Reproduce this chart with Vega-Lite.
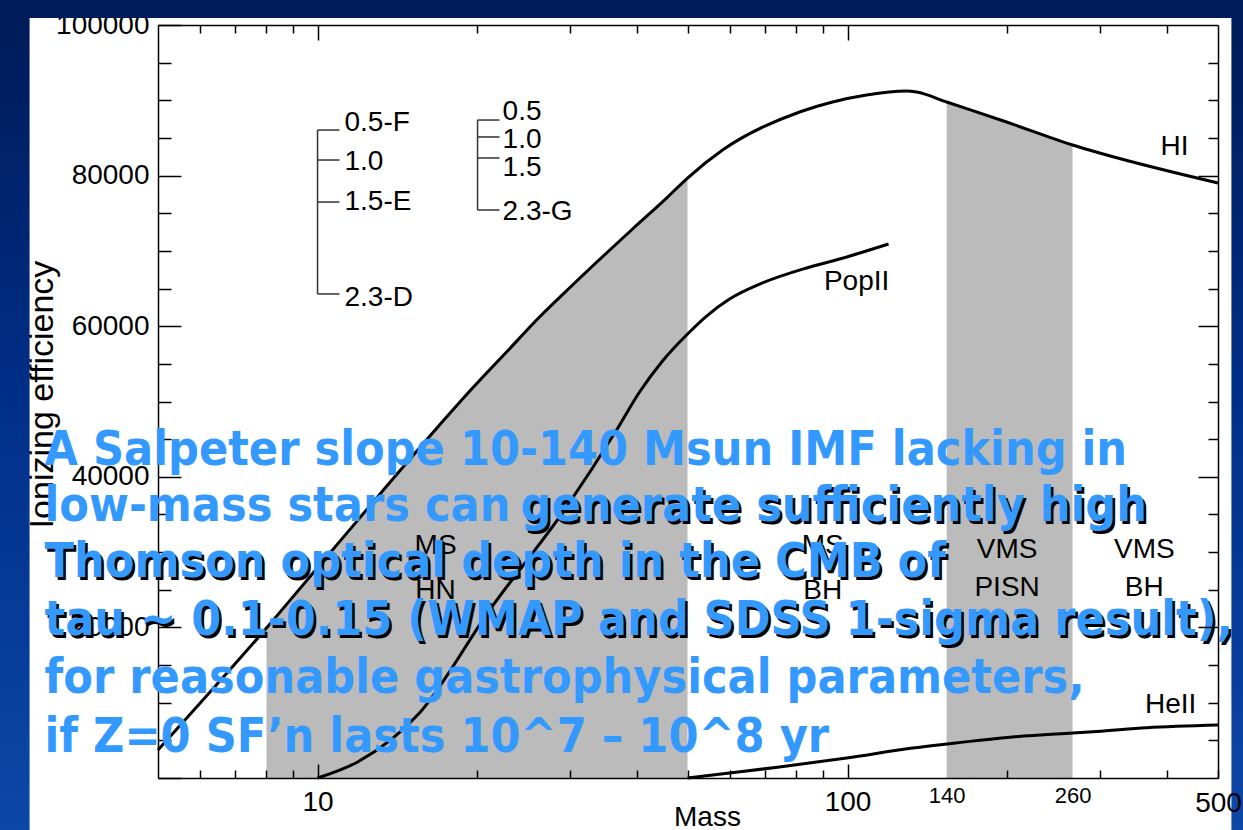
{
  "$schema": "https://vega.github.io/schema/vega-lite/v6.json",
  "width": 1060,
  "height": 753,
  "autosize": "none",
  "padding": {"left": 158, "top": 25, "right": 25, "bottom": 52},
  "background": "white",
  "config": {"view": {"stroke": null}, "font": "Liberation Sans"},
  "datasets": {
    "frame": [
      {"part": "left", "x1": 1, "x2": 2.862, "y1": -7000, "y2": 103400},
      {"part": "right", "x1": 530, "x2": 1000, "y1": -7000, "y2": 103400},
      {"part": "top", "x1": 1, "x2": 1000, "y1": 100930, "y2": 103400}
    ],
    "curves": [
      {"series": "HI", "mass": 5.0, "value": 3720, "band": null},
      {"series": "HI", "mass": 8.01, "value": 19920, "band": "A"},
      {"series": "HI", "mass": 10.67, "value": 30280, "band": "A"},
      {"series": "HI", "mass": 16.99, "value": 46880, "band": "A"},
      {"series": "HI", "mass": 19.61, "value": 51790, "band": "A"},
      {"series": "HI", "mass": 22.73, "value": 56570, "band": "A"},
      {"series": "HI", "mass": 26.23, "value": 61220, "band": "A"},
      {"series": "HI", "mass": 30.28, "value": 65470, "band": "A"},
      {"series": "HI", "mass": 35.1, "value": 69720, "band": "A"},
      {"series": "HI", "mass": 39.29, "value": 72910, "band": "A"},
      {"series": "HI", "mass": 45.55, "value": 77020, "band": "A"},
      {"series": "HI", "mass": 49.9, "value": 79680, "band": "A"},
      {"series": "HI", "mass": 58.1, "value": 83400, "band": null},
      {"series": "HI", "mass": 81.2, "value": 88450, "band": null},
      {"series": "HI", "mass": 93.7, "value": 89770, "band": null},
      {"series": "HI", "mass": 108.6, "value": 90700, "band": null},
      {"series": "HI", "mass": 129.2, "value": 91230, "band": null},
      {"series": "HI", "mass": 135.0, "value": 91100, "band": null},
      {"series": "HI", "mass": 153.8, "value": 89770, "band": "B"},
      {"series": "HI", "mass": 199.5, "value": 87120, "band": "B"},
      {"series": "HI", "mass": 265.8, "value": 84060, "band": "B"},
      {"series": "HI", "mass": 298.9, "value": 83000, "band": null},
      {"series": "HI", "mass": 500, "value": 79020, "band": null},
      {"series": "PopII", "mass": 10.0, "value": 0},
      {"series": "PopII", "mass": 11.9, "value": 2125},
      {"series": "PopII", "mass": 15.57, "value": 8630},
      {"series": "PopII", "mass": 21.12, "value": 22310},
      {"series": "PopII", "mass": 29.5, "value": 35990},
      {"series": "PopII", "mass": 36.66, "value": 46210},
      {"series": "PopII", "mass": 40.51, "value": 51260},
      {"series": "PopII", "mass": 44.76, "value": 55380},
      {"series": "PopII", "mass": 49.9, "value": 58960},
      {"series": "PopII", "mass": 54.2, "value": 61350},
      {"series": "PopII", "mass": 59.9, "value": 63610},
      {"series": "PopII", "mass": 69.1, "value": 65740},
      {"series": "PopII", "mass": 83.7, "value": 67730},
      {"series": "PopII", "mass": 96.6, "value": 68920},
      {"series": "PopII", "mass": 119.5, "value": 70920},
      {"series": "HeII", "mass": 49.9, "value": 0},
      {"series": "HeII", "mass": 59.9, "value": 660},
      {"series": "HeII", "mass": 74.4, "value": 1460},
      {"series": "HeII", "mass": 99.6, "value": 2660},
      {"series": "HeII", "mass": 132.6, "value": 3980},
      {"series": "HeII", "mass": 153.8, "value": 4520},
      {"series": "HeII", "mass": 204.8, "value": 5450},
      {"series": "HeII", "mass": 265.8, "value": 5980},
      {"series": "HeII", "mass": 295.1, "value": 6180},
      {"series": "HeII", "mass": 366.6, "value": 6680},
      {"series": "HeII", "mass": 500, "value": 7040}
    ],
    "labels": [
      {"label": "HI", "mass": 414, "value": 83800},
      {"label": "PopII", "mass": 104, "value": 65870},
      {"label": "HeII", "mass": 407, "value": 9690},
      {"label": "MS", "mass": 16.7, "value": 30810},
      {"label": "HN", "mass": 16.7, "value": 24830},
      {"label": "MS", "mass": 89.8, "value": 30810},
      {"label": "BH", "mass": 89.8, "value": 24830},
      {"label": "VMS", "mass": 200, "value": 30280},
      {"label": "PISN", "mass": 200, "value": 25230},
      {"label": "VMS", "mass": 363, "value": 30280},
      {"label": "BH", "mass": 363, "value": 25230}
    ],
    "bracketLabels": [
      {"label": "0.5-F", "mass": 11.24, "value": 86980},
      {"label": "1.0", "mass": 11.24, "value": 81800},
      {"label": "1.5-E", "mass": 11.24, "value": 76490},
      {"label": "2.3-D", "mass": 11.24, "value": 63740},
      {"label": "0.5", "mass": 22.34, "value": 88450},
      {"label": "1.0", "mass": 22.34, "value": 84730},
      {"label": "1.5", "mass": 22.34, "value": 81010},
      {"label": "2.3-G", "mass": 22.34, "value": 75170}
    ],
    "brackets": [
      {"m1": 10, "m2": 10, "v1": 86050, "v2": 64280},
      {"m1": 10, "m2": 11.0, "v1": 86050, "v2": 86050},
      {"m1": 10, "m2": 11.0, "v1": 82070, "v2": 82070},
      {"m1": 10, "m2": 11.0, "v1": 76490, "v2": 76490},
      {"m1": 10, "m2": 11.0, "v1": 64280, "v2": 64280},
      {"m1": 20.04, "m2": 20.04, "v1": 87380, "v2": 75430},
      {"m1": 20.04, "m2": 22.05, "v1": 87380, "v2": 87380},
      {"m1": 20.04, "m2": 22.05, "v1": 85130, "v2": 85130},
      {"m1": 20.04, "m2": 22.05, "v1": 82340, "v2": 82340},
      {"m1": 20.04, "m2": 22.05, "v1": 75430, "v2": 75430}
    ],
    "notes": [
      {"text": "A Salpeter slope 10-140 Msun IMF lacking in", "mass": 3.054, "value": 41570, "shadow": false},
      {"text": "low-mass stars can", "mass": 3.054, "value": 34130, "shadow": false},
      {"text": "generate sufficiently high", "mass": 24.15, "value": 34130, "shadow": true},
      {"text": "Thomson optical depth in the CMB of", "mass": 3.054, "value": 26690, "shadow": true},
      {"text": "tau ~ 0.1-0.15 (WMAP and SDSS 1-sigma result),", "mass": 3.054, "value": 18990, "shadow": true},
      {"text": "for reasonable gastrophysical parameters,", "mass": 3.054, "value": 11290, "shadow": false},
      {"text": "if Z=0 SF’n lasts 10^7 – 10^8 yr", "mass": 3.054, "value": 3450, "shadow": false}
    ]
  },
  "resolve": {"axis": {"x": "independent", "y": "independent"}},
  "layer": [
    {
      "data": {"name": "frame"},
      "transform": [{"filter": "datum.part !== 'top'"}],
      "mark": {
        "type": "rect",
        "fill": {"gradient": "linear", "x1": 0, "y1": 0, "x2": 0, "y2": 1, "stops": [{"offset": 0, "color": "#001a56"}, {"offset": 0.5, "color": "#00308a"}, {"offset": 1, "color": "#0d47a8"}]}
      },
      "encoding": {
        "x": {"field": "x1", "type": "quantitative", "scale": {"type": "log", "domain": [5, 500], "nice": false}, "axis": null},
        "x2": {"field": "x2"},
        "y": {"field": "y1", "type": "quantitative", "scale": {"domain": [0, 100000], "nice": false, "zero": false}, "axis": null},
        "y2": {"field": "y2"}
      }
    },
    {
      "data": {"name": "frame"},
      "transform": [{"filter": "datum.part === 'top'"}],
      "mark": {"type": "rect", "fill": "#001c5b"},
      "encoding": {
        "x": {"field": "x1", "type": "quantitative", "scale": {"type": "log", "domain": [5, 500], "nice": false}, "axis": null},
        "x2": {"field": "x2"},
        "y": {"field": "y1", "type": "quantitative", "scale": {"domain": [0, 100000], "nice": false, "zero": false}, "axis": null},
        "y2": {"field": "y2"}
      }
    },
    {
      "data": {"name": "curves"},
      "transform": [{"filter": "datum.series === 'HI' && datum.band != null"}],
      "mark": {"type": "area", "color": "#bbbbbb", "interpolate": "monotone"},
      "encoding": {
        "x": {"field": "mass", "type": "quantitative", "scale": {"type": "log", "domain": [5, 500], "nice": false}, "axis": null},
        "y": {"field": "value", "type": "quantitative", "scale": {"domain": [0, 100000], "nice": false, "zero": false}, "axis": null},
        "y2": {"datum": 0},
        "detail": {"field": "band"}
      }
    },
    {
      "data": {"name": "curves"},
      "mark": {"type": "line", "color": "black", "strokeWidth": 3, "interpolate": "monotone"},
      "encoding": {
        "x": {
          "field": "mass", "type": "quantitative",
          "scale": {"type": "log", "domain": [5, 500], "nice": false},
          "axis": {
            "orient": "bottom",
            "values": [6, 7, 8, 9, 10, 20, 30, 40, 50, 60, 70, 80, 90, 100, 153.8, 200, 265.8, 300, 400, 500],
            "grid": false,
            "domainColor": "black", "domainWidth": 1.5,
            "tickColor": "black", "tickWidth": 1.5,
            "tickSize": {"condition": [{"test": "datum.value === 10 || datum.value === 100", "value": -14}, {"test": "datum.value === 153.8 || datum.value === 265.8", "value": 0}], "value": -8},
            "labelExpr": "datum.value === 10 ? '10' : datum.value === 100 ? '100' : datum.value === 500 ? '500' : datum.value === 153.8 ? '140' : datum.value === 265.8 ? '260' : ''",
            "labelFont": "Liberation Sans",
            "labelFontSize": {"condition": {"test": "datum.value === 153.8 || datum.value === 265.8", "value": 22}, "value": 28},
            "labelPadding": {"condition": [{"test": "datum.value === 10 || datum.value === 100", "value": 24}, {"test": "datum.value === 153.8 || datum.value === 265.8", "value": 7}], "value": 19},
            "labelColor": "black",
            "labelOverlap": false, "labelFlush": false, "labelBound": false,
            "title": "Mass", "titleFont": "Liberation Sans", "titleFontSize": 28, "titleFontWeight": "normal", "titleColor": "black",
            "titleX": 549, "titleY": 47, "titleBaseline": "alphabetic", "titleAlign": "center",
            "zindex": 1
          }
        },
        "y": {
          "field": "value", "type": "quantitative",
          "scale": {"domain": [0, 100000], "nice": false, "zero": false},
          "axis": {
            "orient": "left",
            "values": [0, 5000, 10000, 15000, 20000, 25000, 30000, 35000, 40000, 45000, 50000, 55000, 60000, 65000, 70000, 75000, 80000, 85000, 90000, 95000, 100000],
            "format": "d",
            "grid": false,
            "domainColor": "black", "domainWidth": 1.5,
            "tickColor": "black", "tickWidth": 1.5,
            "tickSize": {"condition": {"test": "datum.value % 20000 === 0", "value": -23}, "value": -13},
            "labelExpr": "datum.value % 20000 === 0 && datum.value > 0 ? datum.label : ''",
            "labelFont": "Liberation Sans", "labelFontSize": 28, "labelColor": "black",
            "labelPadding": 32, "labelOverlap": false, "labelFlush": false, "labelBound": false,
            "title": "Ionizing efficiency", "titleFont": "Liberation Sans", "titleFontSize": 34, "titleFontWeight": "normal", "titleColor": "black",
            "titleAngle": -90, "titleX": -106, "titleY": 369, "titleAlign": "center", "titleBaseline": "alphabetic",
            "zindex": 0
          }
        },
        "detail": {"field": "series"}
      }
    },
    {
      "data": {"name": "labels"},
      "mark": {"type": "text", "font": "Liberation Sans", "fontSize": 28, "color": "black", "align": "center", "baseline": "middle"},
      "encoding": {
        "x": {
          "field": "mass", "type": "quantitative",
          "scale": {"type": "log", "domain": [5, 500], "nice": false},
          "axis": {
            "orient": "top",
            "values": [6, 7, 8, 9, 10, 20, 30, 40, 50, 60, 70, 80, 90, 100, 200, 300, 400],
            "grid": false, "labels": false, "title": null,
            "domainColor": "black", "domainWidth": 1.5,
            "tickColor": "black", "tickWidth": 1.5,
            "tickSize": {"condition": {"test": "datum.value === 10 || datum.value === 100", "value": -15}, "value": -8},
            "zindex": 1
          }
        },
        "y": {
          "field": "value", "type": "quantitative",
          "scale": {"domain": [0, 100000], "nice": false, "zero": false},
          "axis": {
            "orient": "right",
            "values": [5000, 10000, 15000, 20000, 25000, 30000, 35000, 40000, 45000, 50000, 55000, 60000, 65000, 70000, 75000, 80000, 85000, 90000, 95000],
            "grid": false, "labels": false, "title": null,
            "domainColor": "black", "domainWidth": 1.5,
            "tickColor": "black", "tickWidth": 1.5,
            "tickSize": {"condition": {"test": "datum.value % 20000 === 0", "value": -20}, "value": -10},
            "zindex": 1
          }
        },
        "text": {"field": "label"}
      }
    },
    {
      "data": {"name": "brackets"},
      "mark": {"type": "rule", "color": "#333333", "strokeWidth": 1.5},
      "encoding": {
        "x": {"field": "m1", "type": "quantitative", "scale": {"type": "log", "domain": [5, 500], "nice": false}, "axis": null},
        "x2": {"field": "m2"},
        "y": {"field": "v1", "type": "quantitative", "scale": {"domain": [0, 100000], "nice": false, "zero": false}, "axis": null},
        "y2": {"field": "v2"}
      }
    },
    {
      "data": {"name": "bracketLabels"},
      "mark": {"type": "text", "font": "Liberation Sans", "fontSize": 28, "color": "black", "align": "left", "baseline": "middle"},
      "encoding": {
        "x": {"field": "mass", "type": "quantitative", "scale": {"type": "log", "domain": [5, 500], "nice": false}, "axis": null},
        "y": {"field": "value", "type": "quantitative", "scale": {"domain": [0, 100000], "nice": false, "zero": false}, "axis": null},
        "text": {"field": "label"}
      }
    },
    {
      "data": {"name": "notes"},
      "transform": [{"filter": "datum.shadow"}],
      "mark": {"type": "text", "font": "DejaVu Sans Condensed, Open Sans, sans-serif", "fontWeight": "bold", "fontSize": 48, "color": "black", "align": "left", "baseline": "alphabetic", "dx": 2.5, "dy": 2.5},
      "encoding": {
        "x": {"field": "mass", "type": "quantitative", "scale": {"type": "log", "domain": [5, 500], "nice": false}, "axis": null},
        "y": {"field": "value", "type": "quantitative", "scale": {"domain": [0, 100000], "nice": false, "zero": false}, "axis": null},
        "text": {"field": "text"}
      }
    },
    {
      "data": {"name": "notes"},
      "mark": {"type": "text", "font": "DejaVu Sans Condensed, Open Sans, sans-serif", "fontWeight": "bold", "fontSize": 48, "color": "#3399ff", "align": "left", "baseline": "alphabetic"},
      "encoding": {
        "x": {"field": "mass", "type": "quantitative", "scale": {"type": "log", "domain": [5, 500], "nice": false}, "axis": null},
        "y": {"field": "value", "type": "quantitative", "scale": {"domain": [0, 100000], "nice": false, "zero": false}, "axis": null},
        "text": {"field": "text"}
      }
    }
  ]
}
